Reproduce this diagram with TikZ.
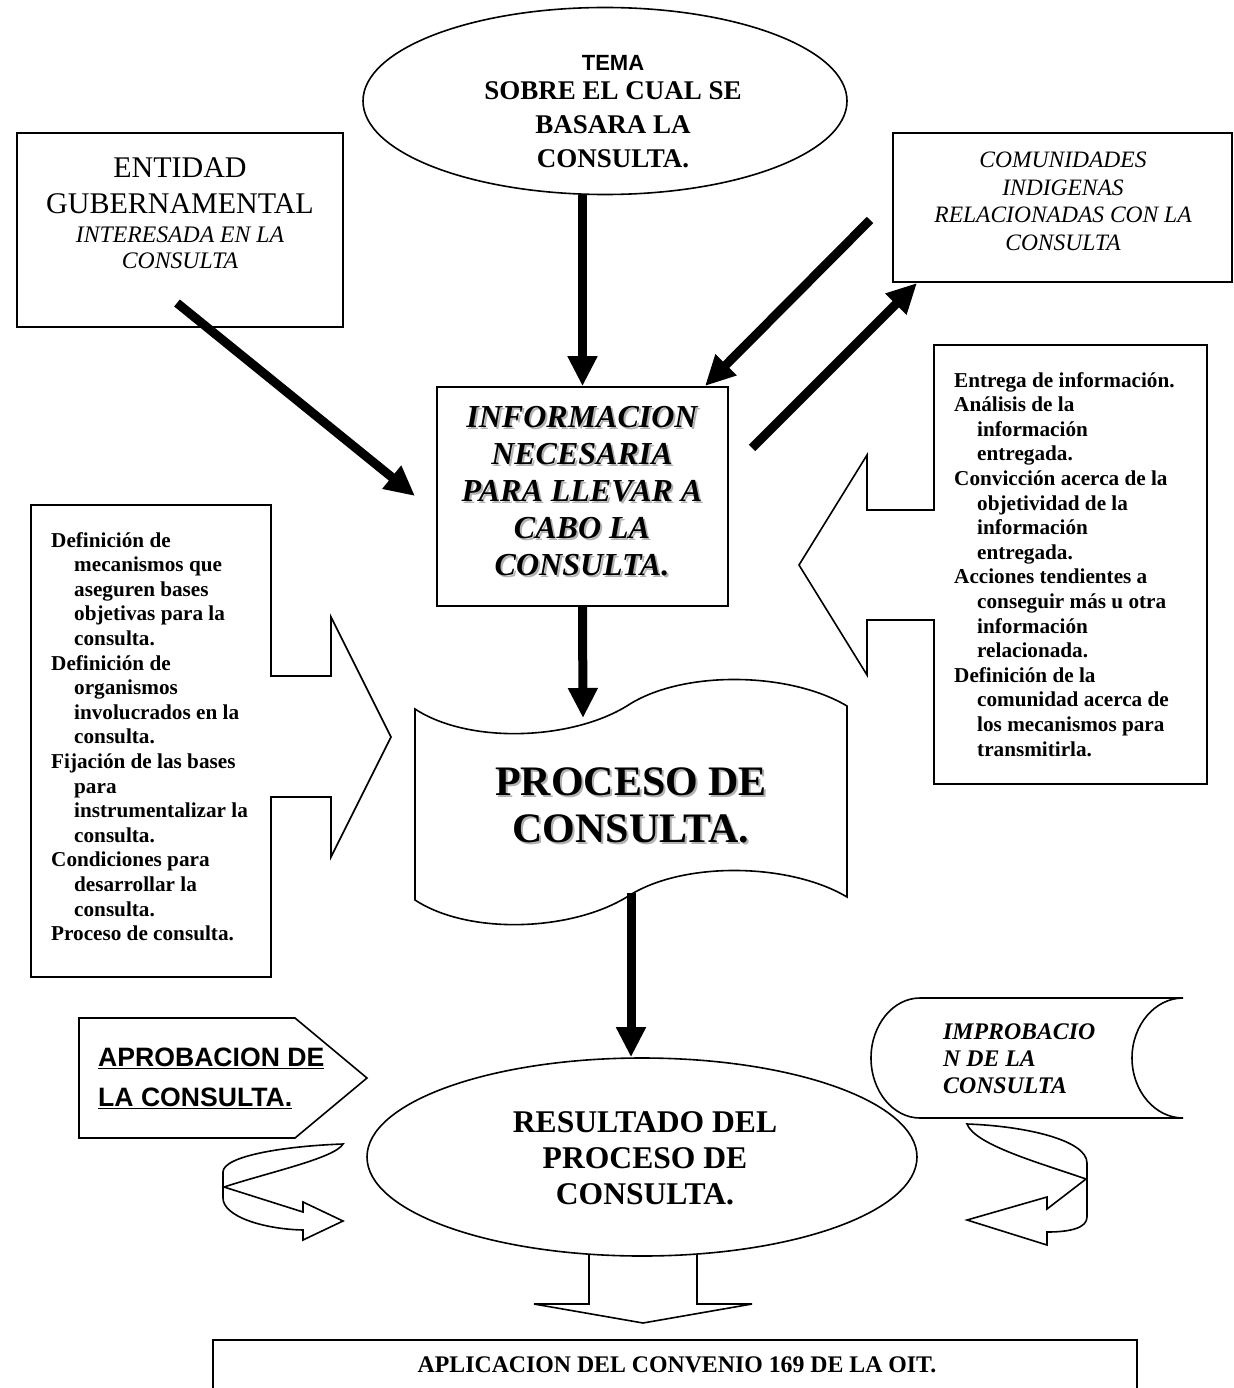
\documentclass[tikz,border=0pt]{standalone}
\usepackage{fontspec}
\setmainfont{Liberation Serif}
\newfontfamily\arialfont{Liberation Sans}
\usetikzlibrary{arrows.meta,shapes.geometric}

\newcommand{\shd}[1]{\leavevmode\rlap{\kern2pt\raisebox{-2pt}{\textcolor{black!30}{#1}}}#1}
\newcommand{\listindent}{\hspace*{23pt}}

\begin{document}
\begin{tikzpicture}
  [x=1pt, y=-1pt]
  \tikzstyle{box} = [draw=black, line width=1.6pt];
  \tikzstyle{thick_arrow} = [line width=9pt, -{Triangle[length=30pt, width=28pt]}];
  \tikzstyle{label_text} = [inner sep=0pt, align=center, anchor=north];
  \tikzstyle{list_text} = [inner sep=0pt, align=left, anchor=north west, font=\fontsize{21.2}{24.6}\selectfont\bfseries];

  \fill[white] (0, 0) rectangle (1233, 1388);
  \useasboundingbox (0, 0) rectangle (1233, 1388);

  \node[box, ellipse, minimum width=484, minimum height=187, inner sep=0pt] (tema) at (605, 101) {};
  \node[label_text, font=\fontsize{27}{34}\selectfont\bfseries] (tema_text) at (613, 55)
    {{\arialfont\fontsize{22}{26}\selectfont TEMA}\\[-5pt] SOBRE EL CUAL SE\\BASARA LA\\CONSULTA.};

  \node[box, minimum width=326, minimum height=194, inner sep=0pt] (entidad) at (180, 230) {};
  \node[label_text, font=\fontsize{30}{36}\selectfont] (entidad_text) at (180, 157)
    {ENTIDAD\\GUBERNAMENTAL\\[-7pt] {\itshape\fontsize{23.7}{26}\selectfont INTERESADA EN LA}\\[-10pt] {\itshape\fontsize{23.7}{26}\selectfont CONSULTA}};

  \node[box, minimum width=339, minimum height=149, inner sep=0pt] (comunidades) at (1062.5, 207.5) {};
  \node[label_text, font=\fontsize{23.5}{27.5}\selectfont\itshape] (comunidades_text) at (1063, 152)
    {COMUNIDADES\\INDIGENAS\\RELACIONADAS CON LA\\CONSULTA};

  \node[box, minimum width=291, minimum height=219, inner sep=0pt] (info) at (582.5, 496.5) {};
  \node[label_text, font=\fontsize{32}{37}\selectfont\bfseries\itshape] (info_text) at (582, 406)
    {\shd{INFORMACION}\\\shd{NECESARIA}\\\shd{PARA LLEVAR A}\\\shd{CABO LA}\\\shd{CONSULTA.}};

  \draw[box] (31, 505) -- (271, 505) -- (271, 676) -- (331, 676) -- (331, 617) -- (391, 737)
    -- (331, 857) -- (331, 797) -- (271, 797) -- (271, 977) -- (31, 977) -- cycle;
  \node[list_text] (bases_list) at (51, 532)
    {Definición de\\\listindent mecanismos que\\\listindent aseguren bases\\\listindent objetivas para la\\\listindent consulta.\\
     Definición de\\\listindent organismos\\\listindent involucrados en la\\\listindent consulta.\\
     Fijación de las bases\\\listindent para\\\listindent instrumentalizar la\\\listindent consulta.\\
     Condiciones para\\\listindent desarrollar la\\\listindent consulta.\\
     Proceso de consulta.};

  \draw[box] (934, 345) -- (1207, 345) -- (1207, 784) -- (934, 784) -- (934, 620) -- (867, 620)
    -- (867, 675) -- (799, 565) -- (867, 455) -- (867, 510) -- (934, 510) -- cycle;
  \node[list_text] (entrega_list) at (954, 372)
    {Entrega de información.\\
     Análisis de la\\\listindent información\\\listindent entregada.\\
     Convicción acerca de la\\\listindent objetividad de la\\\listindent información\\\listindent entregada.\\
     Acciones tendientes a\\\listindent conseguir más u otra\\\listindent información\\\listindent relacionada.\\
     Definición de la\\\listindent comunidad acerca de\\\listindent los mecanismos para\\\listindent transmitirla.};

  \draw[box] (415, 709) .. controls (470, 745) and (575, 740) .. (630, 704)
    .. controls (685, 670) and (790, 672) .. (847, 706) -- (847, 897)
    .. controls (790, 863) and (685, 861) .. (630, 895)
    .. controls (575, 931) and (470, 936) .. (415, 900) -- cycle;
  \node[label_text, font=\fontsize{42}{47}\selectfont\bfseries] (proceso_text) at (631, 767)
    {\shd{PROCESO DE}\\\shd{CONSULTA.}};

  \node[box, ellipse, minimum width=550, minimum height=198, inner sep=0pt] (resultado) at (642, 1157) {};
  \node[label_text, font=\fontsize{31.6}{36}\selectfont\bfseries] (resultado_text) at (645, 1111)
    {RESULTADO DEL\\PROCESO DE\\CONSULTA.};

  \draw[box] (79, 1018) -- (295, 1018) -- (367, 1078) -- (295, 1138) -- (79, 1138) -- cycle;
  \node[inner sep=0pt, align=left, anchor=north west, font=\arialfont\fontsize{26.6}{40}\selectfont\bfseries] (aprobacion_text) at (98, 1048)
    {\underline{APROBACION DE}\\\underline{LA CONSULTA.}};

  \draw[box] (920, 998) -- (1183, 998) .. controls (1155, 998) and (1132, 1025) .. (1132, 1058)
    .. controls (1132, 1091) and (1155, 1118) .. (1183, 1118) -- (920, 1118)
    .. controls (893, 1118) and (871, 1091) .. (871, 1058)
    .. controls (871, 1025) and (893, 998) .. (920, 998) -- cycle;
  \node[inner sep=0pt, align=left, anchor=north west, font=\fontsize{23.8}{27}\selectfont\bfseries\itshape] (improbacion_text) at (943, 1024)
    {IMPROBACIO\\N DE LA\\CONSULTA};

  \draw[box] (343, 1144) .. controls (285, 1146) and (223, 1156) .. (223, 1172) -- (223, 1198)
    .. controls (223, 1216) and (262, 1229) .. (303, 1230) -- (303, 1240) -- (343, 1221)
    -- (303, 1202) -- (303, 1212) -- (224, 1187) .. controls (270, 1172) and (335, 1158) .. (343, 1144) -- cycle;
  \draw[box] (967, 1124) .. controls (1025, 1126) and (1087, 1140) .. (1087, 1163) -- (1087, 1217)
    .. controls (1087, 1228) and (1070, 1232) .. (1047, 1232) -- (1047, 1245) -- (967, 1220)
    -- (1047, 1197) -- (1047, 1209) -- (1086, 1179) .. controls (1040, 1163) and (975, 1145) .. (967, 1124) -- cycle;

  \draw[box] (589, 1254) -- (589, 1304) -- (534, 1304) -- (643, 1323) -- (752, 1304) -- (697, 1304) -- (697, 1254);

  \node[box, minimum width=924, minimum height=70, inner sep=0pt] (aplicacion) at (675, 1375) {};
  \node[label_text, font=\fontsize{23.8}{28}\selectfont\bfseries] (aplicacion_text) at (677, 1357)
    {APLICACION DEL CONVENIO 169 DE LA OIT.};

  \coordinate (entidad_out) at (177, 303);
  \coordinate (info_in_left) at (415, 496);
  \coordinate (comunidades_out) at (870, 220);
  \coordinate (info_in_right) at (705, 386);
  \coordinate (info_out) at (752, 448);
  \coordinate (comunidades_in) at (917, 283);
  \coordinate (proceso_top) at (583, 718);
  \coordinate (proceso_bottom) at (631, 893);

  \draw[thick_arrow] (tema.south -| info.north) -- (info.north);
  \draw[thick_arrow] (entidad_out) -- (info_in_left);
  \draw[thick_arrow] (comunidades_out) -- (info_in_right);
  \draw[thick_arrow] (info_out) -- (comunidades_in);
  \draw[thick_arrow] (info.south) -- (proceso_top);
  \draw[thick_arrow] (proceso_bottom) -- (proceso_bottom |- resultado.north);

\end{tikzpicture}
\end{document}
